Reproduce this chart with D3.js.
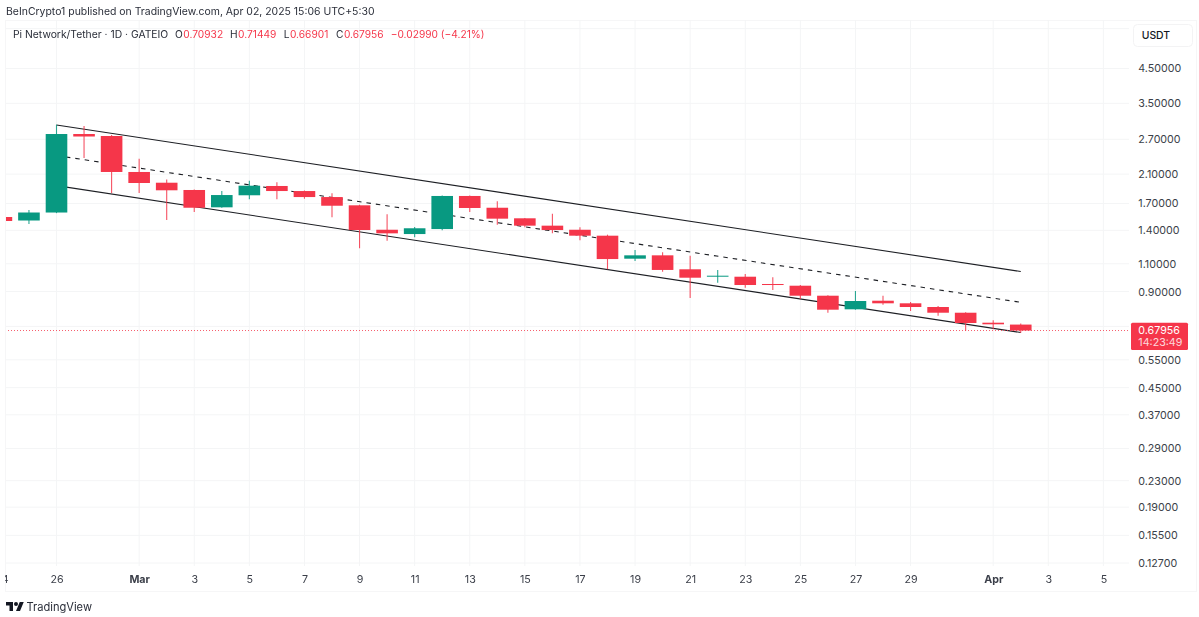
<!DOCTYPE html>
<html><head><meta charset="utf-8">
<script src="https://cdn.jsdelivr.net/npm/d3@7/dist/d3.min.js"></script>
<style>
html,body{margin:0;padding:0;background:#fff}
svg{display:block;filter:blur(0.3px)}
text{font-family:Inter,"Noto Sans",sans-serif}
</style></head><body>
<svg id="c" width="1199" height="617"></svg>
<script>
const dates=["2025-02-24","2025-02-25","2025-02-26","2025-02-27","2025-02-28","2025-03-01","2025-03-02","2025-03-03","2025-03-04","2025-03-05","2025-03-06","2025-03-07","2025-03-08","2025-03-09","2025-03-10","2025-03-11","2025-03-12","2025-03-13","2025-03-14","2025-03-15","2025-03-16","2025-03-17","2025-03-18","2025-03-19","2025-03-20","2025-03-21","2025-03-22","2025-03-23","2025-03-24","2025-03-25","2025-03-26","2025-03-27","2025-03-28","2025-03-29","2025-03-30","2025-03-31","2025-04-01","2025-04-02"];
const opens=[1.5413,1.5029,1.592,2.805,2.765,2.133,1.974,1.873,1.653,1.803,1.928,1.859,1.78,1.677,1.406,1.363,1.413,1.794,1.648,1.527,1.448,1.406,1.347,1.141,1.169,1.057,1.0048,1.0019,0.9505,0.9389,0.8736,0.7919,0.8426,0.827,0.8052,0.7727,0.719,0.70932];
const highs=[1.5413,1.6212,3.0,2.972,2.785,2.347,2.02,1.88,1.859,2.003,1.98,1.866,1.829,1.683,1.572,1.434,1.8,1.8,1.726,1.53,1.578,1.431,1.357,1.215,1.195,1.166,1.052,1.0216,0.9976,0.9437,0.877,0.9037,0.8736,0.8348,0.811,0.776,0.7315,0.71449];
const lows=[1.4975,1.4655,1.585,2.359,1.833,1.833,1.508,1.598,1.647,1.751,1.751,1.759,1.538,1.23,1.299,1.331,1.4,1.598,1.458,1.431,1.37,1.303,1.057,1.122,1.039,0.8592,0.9595,0.9255,0.9102,0.853,0.7727,0.789,0.8186,0.7823,0.7562,0.6786,0.6855,0.66901];
const closes=[1.4975,1.5922,2.805,2.755,2.133,1.97,1.869,1.648,1.806,1.932,1.859,1.78,1.672,1.403,1.37,1.421,1.794,1.645,1.523,1.448,1.403,1.347,1.138,1.169,1.052,0.9947,1.0092,0.9437,0.9464,0.8736,0.7897,0.8408,0.827,0.8052,0.7727,0.7174,0.7107,0.67956];
const channelDates=["2025-02-26","2025-04-02"];
const channelUpper=[2.9935,1.0402];
const channelMiddle=[2.402,0.8329];
const channelLower=[1.933,0.6699];
const priceTicks=[4.5,3.5,2.7,2.1,1.7,1.4,1.1,0.9,0.55,0.45,0.37,0.29,0.23,0.19,0.155,0.127];
const hiddenGridPrices=[6.0,0.7];
const timeTickDates=["2025-02-24","2025-02-26","2025-03-01","2025-03-03","2025-03-05","2025-03-07","2025-03-09","2025-03-11","2025-03-13","2025-03-15","2025-03-17","2025-03-19","2025-03-21","2025-03-23","2025-03-25","2025-03-27","2025-03-29","2025-04-01","2025-04-03","2025-04-05"];
const timeTickLabels=["24","26","Mar","3","5","7","9","11","13","15","17","19","21","23","25","27","29","Apr","3","5"];
const legendName="Pi Network/Tether · 1D · GATEIO";
const legendOHLC=[["O","0.70932",175],["H","0.71449",230],["L","0.66901",283.7],["C","0.67956",336]];
const legendChange="−0.02990 (−4.21%)";
const lastPrice=0.67956, lastLabel="0.67956", countdown="14:23:49";

const RED="#f5364a",GREEN="#089981",GRID="#f4f5f6",TXT="#3b3f49";
const svg=d3.select("#c");
const parse=d3.utcParse("%Y-%m-%d");
const x=d3.scaleUtc().domain([parse("2025-02-24"),parse("2025-04-05")]).range([1.4,1103.4]);
const y=d3.scaleLog().domain([4.5,0.127]).range([68.5,563]);
const L=5,R=1129,T=20,B=566;
const defs=svg.append("defs");
defs.append("clipPath").attr("id","plot").append("rect").attr("x",L+1).attr("y",T).attr("width",R-L).attr("height",B-T);
defs.append("clipPath").attr("id","frame").append("rect").attr("x",L).attr("y",T).attr("width",1191).attr("height",571);

// frame
svg.append("rect").attr("x",L+.5).attr("y",T+.5).attr("width",1191).attr("height",571).attr("fill","#fff").attr("stroke","#f6f6f7");

// grid
const g=svg.append("g").attr("clip-path","url(#plot)");
g.selectAll(".h").data(priceTicks.concat(hiddenGridPrices)).join("line")
 .attr("x1",L).attr("x2",R).attr("y1",d=>y(d)).attr("y2",d=>y(d)).attr("stroke",GRID);
g.selectAll(".v").data(timeTickDates).join("line")
 .attr("x1",d=>x(parse(d))).attr("x2",d=>x(parse(d))).attr("y1",T).attr("y2",B).attr("stroke",GRID);

// channel
const line=d3.line().x(d=>x(d[0])).y(d=>y(d[1]));
const cd=channelDates.map(parse);
[[channelUpper,null],[channelLower,null],[channelMiddle,"4.5 5"]].forEach(([s,dash])=>{
  g.append("path").attr("d",line(cd.map((d,i)=>[d,s[i]]))).attr("fill","none").attr("stroke","#1d1f24").attr("stroke-width",1.1)
   .attr("stroke-dasharray",dash);
});

// last price line
g.append("line").attr("x1",L).attr("x2",R).attr("y1",y(lastPrice)).attr("y2",y(lastPrice))
 .attr("stroke",RED).attr("stroke-width",1).attr("stroke-dasharray","1 2").attr("opacity",.8);

// candles
const rows=dates.map((d,i)=>({d:parse(d),o:opens[i],h:highs[i],l:lows[i],c:closes[i]}));
const col=r=>r.c>=r.o?GREEN:RED, bw=21.6;
const cg=g.selectAll(".cdl").data(rows).join("g");
cg.append("line").attr("x1",r=>x(r.d)).attr("x2",r=>x(r.d)).attr("y1",r=>y(r.h)).attr("y2",r=>y(r.l))
 .attr("stroke",col).attr("stroke-width",1.1).attr("opacity",.85);
cg.append("rect").attr("x",r=>x(r.d)-bw/2).attr("width",bw)
 .attr("y",r=>y(Math.max(r.o,r.c))).attr("height",r=>Math.max(1,Math.abs(y(r.o)-y(r.c))))
 .attr("fill",col);

// price axis
const ya=svg.append("g").attr("transform","translate(1138.3,0)").call(d3.axisRight(y).tickValues(priceTicks).tickSize(0).tickPadding(0).tickFormat(d3.format(".5f")));
ya.select(".domain").remove();
ya.selectAll("text").attr("fill",TXT).attr("font-size",10.7).style("font-family","Inter");

// time axis
const xa=svg.append("g").attr("clip-path","url(#frame)").append("g").attr("transform","translate(0,575.5)")
 .call(d3.axisBottom(x).tickValues(timeTickDates.map(parse)).tickSize(0).tickPadding(0).tickFormat((d,i)=>timeTickLabels[i]));
xa.select(".domain").remove();
xa.selectAll("text").attr("fill",TXT).attr("font-size",10.7).style("font-family","Inter")
  .attr("font-weight",(d,i)=>/[A-Z]/.test(timeTickLabels[i])?700:400);

// USDT button
svg.append("rect").attr("x",1133.5).attr("y",24.5).attr("width",59).attr("height",22).attr("rx",4).attr("fill","#fff").attr("stroke","#f3f3f4");
svg.append("text").attr("x",1141.7).attr("y",39).attr("font-size",10.4).attr("font-weight",500).attr("fill","#131722").text("USDT");

// last price label
const ly=y(lastPrice);
svg.append("rect").attr("x",1131).attr("y",ly-7.8).attr("width",57).attr("height",27.3).attr("rx",1.5).attr("fill",RED);
svg.append("text").attr("x",1138.3).attr("y",ly+3.8).attr("font-size",10.7).attr("fill","#fff").text(lastLabel);
svg.append("text").attr("x",1138.3).attr("y",ly+15.6).attr("font-size",10.7).attr("fill","#fff").attr("opacity",.8).text(countdown);

// header and legend
svg.append("text").attr("x",6).attr("y",14.8).attr("font-size",10.45).attr("fill","#2a2e39").text("BeInCrypto1 published on TradingView.com, Apr 02, 2025 15:06 UTC+5:30");
svg.append("text").attr("x",13).attr("y",38.2).attr("font-size",10.35).attr("fill","#2a2e39").text(legendName);
legendOHLC.forEach(([k,v,px])=>{
  const t=svg.append("text").attr("x",px).attr("y",38.2).attr("font-size",10.2).attr("fill","#2a2e39");
  t.append("tspan").text(k);
  t.append("tspan").attr("fill",RED).attr("dx",.5).text(v);
});
svg.append("text").attr("x",390.7).attr("y",38.2).attr("font-size",10.2).attr("fill",RED).text(legendChange);

// TradingView mark
const logo=svg.append("g").attr("transform","translate(6,600) scale(.5)").attr("fill","#131722");
logo.append("path").attr("d","M14 22H7V11H0V4h14v18zM28 22h-8l7.5-18h8L28 22z");
logo.append("circle").attr("cx",20).attr("cy",8).attr("r",4);
svg.append("text").attr("x",26.5).attr("y",611).attr("font-size",11.1).attr("fill","#2a2e39").text("TradingView");
</script>
</body></html>
